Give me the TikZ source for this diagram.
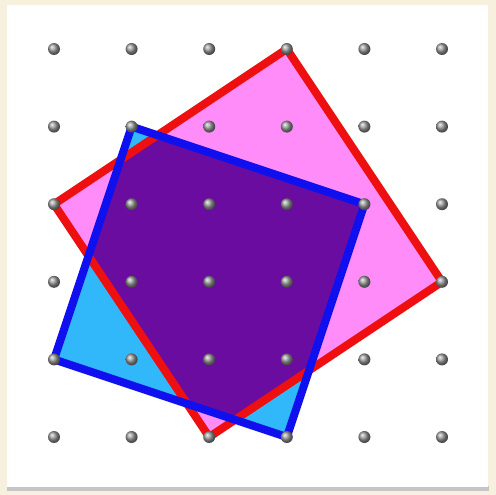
\documentclass[tikz,border=0pt]{standalone}
\usetikzlibrary{calc}
\definecolor{cream}{HTML}{F8F0DE}
\definecolor{pinkfill}{HTML}{FF8CF8}
\definecolor{cyanfill}{HTML}{30B8FA}
\definecolor{purplefill}{HTML}{6A0CA0}
\definecolor{redline}{HTML}{EE1010}
\definecolor{blueline}{HTML}{1010EE}
\tikzset{
  redsq/.style={draw=redline, line width=8pt, line join=round},
  bluesq/.style={draw=blueline, line width=8pt, line join=round},
  peg/.style={circle, minimum size=12pt, inner sep=0pt, ball color=gray!80, draw=none}
}
\begin{document}
\begin{tikzpicture}[x=1pt,y=-1pt]
\useasboundingbox (0,0) rectangle (496,495);
\fill[cream] (0,0) rectangle (496,495);
\fill[gray!45] (7,486) rectangle (489,491);
\fill[white] (7,5) rectangle (488,487);
% grid coordinates
\foreach \i in {0,...,5}{
  \foreach \j in {0,...,5}{
    \coordinate (p\i\j) at ({54+77.6*\i},{49+77.6*\j});
  }
}
% fills
\fill[pinkfill] (p30) -- (p53) -- (p25) -- (p02) -- cycle;
\fill[cyanfill] (p11) -- (p42) -- (p35) -- (p04) -- cycle;
\begin{scope}
  \clip (p11) -- (p42) -- (p35) -- (p04) -- cycle;
  \fill[purplefill] (p30) -- (p53) -- (p25) -- (p02) -- cycle;
\end{scope}
% outlines
\draw[redsq] (p30) -- (p53) -- (p25) -- (p02) -- cycle;
\draw[bluesq] (p11) -- (p42) -- (p35) -- (p04) -- cycle;
% pegs
\foreach \i in {0,...,5}{
  \foreach \j in {0,...,5}{
    \node[peg] (n\i\j) at (p\i\j) {};
  }
}
\end{tikzpicture}
\end{document}
